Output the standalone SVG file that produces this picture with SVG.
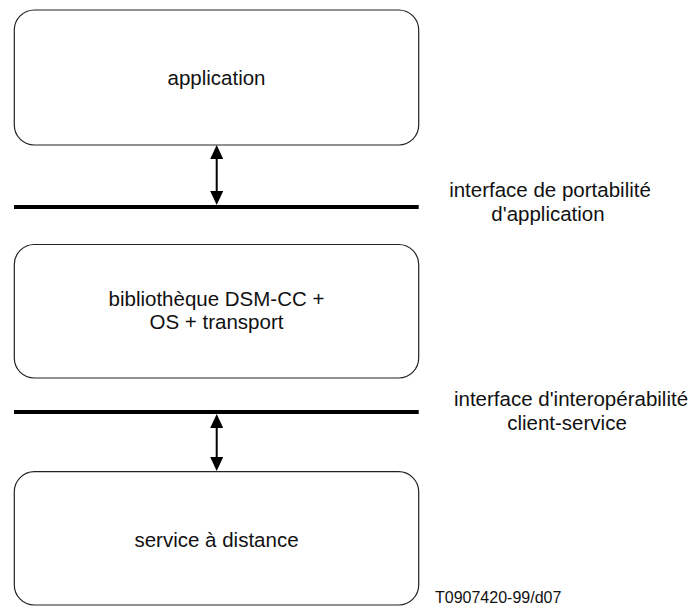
<svg xmlns="http://www.w3.org/2000/svg" width="693" height="609" viewBox="0 0 693 609">
  <style>
    .box { fill: #ffffff; stroke: #222222; stroke-width: 1.2; }
    .lbl { font-family: "Liberation Sans", Arial, sans-serif; font-size: 20.5px; fill: #111111; text-anchor: middle; }
    .ref { font-family: "Liberation Sans", Arial, sans-serif; font-size: 16px; fill: #111111; }
    .iface { stroke: #000000; stroke-width: 4; fill: none; }
    .conn { stroke: #000000; stroke-width: 2; fill: none; marker-start: url(#ah); marker-end: url(#ah); }
  </style>
  <defs>
    <marker id="ah" viewBox="0 0 14 13" refX="0" refY="6.5" markerWidth="14" markerHeight="13" markerUnits="userSpaceOnUse" orient="auto-start-reverse">
      <path d="M0,0 L14,6.5 L0,13 Z" fill="#000000"/>
    </marker>
  </defs>
  <rect width="693" height="609" fill="#ffffff"/>

  <g id="application">
    <rect class="box" x="14.3" y="10" width="404.4" height="135" rx="20" ry="20"/>
    <text class="lbl" x="216.5" y="85">application</text>
  </g>

  <g id="bibliotheque">
    <rect class="box" x="14.3" y="244.5" width="404.4" height="133.5" rx="20" ry="20"/>
    <text class="lbl" x="216.5" y="306">bibliothèque DSM-CC +</text>
    <text class="lbl" x="216.5" y="329">OS + transport</text>
  </g>

  <g id="service">
    <rect class="box" x="14.3" y="471.7" width="404.4" height="133.3" rx="20" ry="20"/>
    <text class="lbl" x="216.5" y="547">service à distance</text>
  </g>

  <g id="interface-portabilite">
    <line class="iface" x1="14" y1="207" x2="418.7" y2="207"/>
    <text class="lbl" x="550" y="197">interface de portabilité</text>
    <text class="lbl" x="548" y="221">d'application</text>
  </g>

  <g id="interface-interoperabilite">
    <line class="iface" x1="14" y1="412" x2="418.7" y2="412"/>
    <text class="lbl" x="571" y="406">interface d'interopérabilité</text>
    <text class="lbl" x="567" y="430">client-service</text>
  </g>

  <g id="connectors">
    <line class="conn" x1="216.7" y1="159" x2="216.7" y2="191"/>
    <line class="conn" x1="216.7" y1="428" x2="216.7" y2="457"/>
  </g>

  <text class="ref" x="435" y="603">T0907420-99/d07</text>
</svg>
